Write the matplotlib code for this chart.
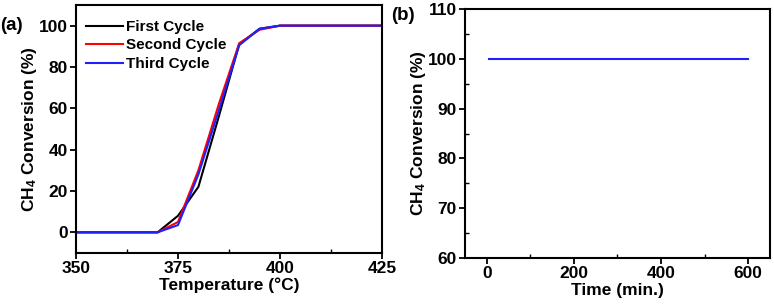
import matplotlib
matplotlib.use("Agg")
import matplotlib.pyplot as plt
from matplotlib.ticker import MultipleLocator

plt.rcParams['font.family'] = ['Liberation Sans', 'DejaVu Sans']
plt.rcParams['font.weight'] = 'bold'
plt.rcParams['mathtext.fontset'] = 'custom'
plt.rcParams['mathtext.rm'] = 'Liberation Sans:bold'
plt.rcParams['mathtext.default'] = 'rm'

# Panel (a) data
temperature = [350, 355, 360, 365, 370, 375, 380, 385, 390, 395, 400, 405, 410, 415, 420, 425]
first_cycle = [0, 0, 0, 0, 0, 8, 22, 56, 91, 98.5, 100, 100, 100, 100, 100, 100]
second_cycle = [0, 0, 0, 0, 0, 5, 30, 62, 91.5, 98, 100, 100, 100, 100, 100, 100]
third_cycle = [0, 0, 0, 0, 0, 3.5, 28, 59, 90.5, 98.5, 100, 100, 100, 100, 100, 100]

# Panel (b) data
time_min = [5, 60, 120, 180, 240, 300, 360, 420, 480, 540, 600]
stability = [100, 100, 100, 100, 100, 100, 100, 100, 100, 100, 100]

fig = plt.figure(figsize=(7.74, 3.08), dpi=100)
ax1 = fig.add_axes([0.0982, 0.1786, 0.3953, 0.8052])
ax2 = fig.add_axes([0.6008, 0.1623, 0.3940, 0.8085])

lw = 1.5
ax1.plot(temperature, first_cycle, color='black', lw=lw, label='First Cycle')
ax1.plot(temperature, second_cycle, color='#ff0000', lw=lw, label='Second Cycle')
ax1.plot(temperature, third_cycle, color='#2020ff', lw=lw, label='Third Cycle')
ax1.set_xlim(350, 425)
ax1.set_ylim(-10, 110)
ax1.xaxis.set_major_locator(MultipleLocator(25))
ax1.xaxis.set_minor_locator(MultipleLocator(12.5))
ax1.yaxis.set_major_locator(MultipleLocator(20))
ax1.set_xlabel('Temperature (°C)', fontsize=12.5, fontweight='bold', labelpad=1)
ax1.set_ylabel('CH$_4$ Conversion (%)', fontsize=12.5, fontweight='bold', labelpad=0)
leg = ax1.legend(loc='upper left', bbox_to_anchor=(0.0, 0.98), frameon=False,
                 fontsize=11, handlelength=2.4, handletextpad=0.25,
                 labelspacing=0.3, borderaxespad=0.45, borderpad=0.2)

ax2.plot(time_min, stability, color='#2020ff', lw=lw)
ax2.set_xlim(-50, 650)
ax2.set_ylim(60, 110)
ax2.xaxis.set_major_locator(MultipleLocator(200))
ax2.xaxis.set_minor_locator(MultipleLocator(100))
ax2.yaxis.set_major_locator(MultipleLocator(10))
ax2.yaxis.set_minor_locator(MultipleLocator(5))
ax2.set_xlabel('Time (min.)', fontsize=12.5, fontweight='bold', labelpad=1)
ax2.set_ylabel('CH$_4$ Conversion (%)', fontsize=12.5, fontweight='bold', labelpad=0)

for ax in (ax1, ax2):
    for s in ax.spines.values():
        s.set_linewidth(1.5)
    ax.tick_params(which='major', direction='out', length=4, width=1.3, labelsize=12.5, pad=2)
    ax.tick_params(which='minor', direction='in', length=3, width=1.0)
    for lab in ax.get_xticklabels() + ax.get_yticklabels():
        lab.set_fontweight('bold')

fig.text(0.0, 0.918, '(a)', fontsize=13.5, fontweight='bold', va='center', ha='left')
fig.text(0.505, 0.950, '(b)', fontsize=13.5, fontweight='bold', va='center', ha='left')

fig.savefig('out.png', dpi=100)
